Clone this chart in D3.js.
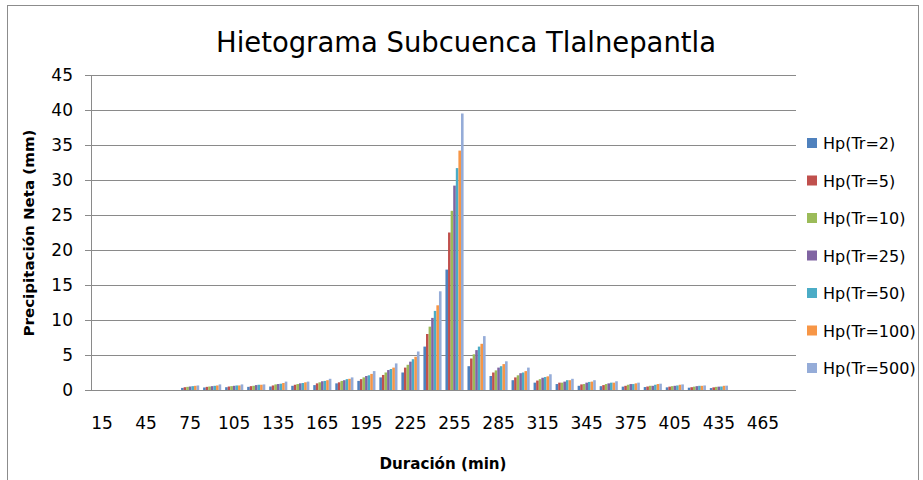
<!DOCTYPE html>
<html>
<head>
<meta charset="utf-8">
<script src="https://cdn.jsdelivr.net/npm/d3@7"></script>
<style>
  body { margin: 0; background: #fff; }
  text { font-family: "DejaVu Sans", "Liberation Sans", sans-serif; fill: #000; }
</style>
</head>
<body>
<div id="chart"></div>
<script>
// chart data
var durations = [15, 30, 45, 60, 75, 90, 105, 120, 135, 150, 165, 180, 195, 210, 225, 240,
    255, 270, 285, 300, 315, 330, 345, 360, 375, 390, 405, 420, 435, 450, 465, 480];

var seriesNames = ["Hp(Tr=2)", "Hp(Tr=5)", "Hp(Tr=10)", "Hp(Tr=25)", "Hp(Tr=50)", "Hp(Tr=100)", "Hp(Tr=500)"];

var hpTr2 = [0, 0, 0, 0, 0.30, 0.36, 0.40, 0.45, 0.50, 0.60, 0.70, 0.95, 1.30, 1.80, 2.50, 6.20,
    17.2, 3.40, 2.00, 1.40, 1.05, 0.85, 0.60, 0.55, 0.48, 0.42, 0.38, 0.33, 0.28, 0, 0, 0];
var hpTr5 = [0, 0, 0, 0, 0.40, 0.45, 0.50, 0.55, 0.65, 0.75, 0.95, 1.10, 1.55, 2.15, 3.20, 8.00,
    22.5, 4.50, 2.50, 1.80, 1.35, 1.05, 0.80, 0.70, 0.60, 0.50, 0.48, 0.40, 0.38, 0, 0, 0];
var hpTr10 = [0, 0, 0, 0, 0.45, 0.50, 0.55, 0.60, 0.80, 0.85, 1.10, 1.30, 1.80, 2.50, 3.60, 9.05,
    25.6, 5.10, 2.80, 2.10, 1.55, 1.05, 0.85, 0.85, 0.75, 0.60, 0.55, 0.48, 0.45, 0, 0, 0];
var hpTr25 = [0, 0, 0, 0, 0.50, 0.55, 0.60, 0.70, 0.85, 0.95, 1.25, 1.40, 2.00, 2.85, 4.05, 10.3,
    29.2, 5.70, 3.20, 2.40, 1.75, 1.20, 1.05, 0.95, 0.85, 0.60, 0.60, 0.55, 0.48, 0, 0, 0];
var hpTr50 = [0, 0, 0, 0, 0.55, 0.60, 0.65, 0.75, 0.90, 1.00, 1.30, 1.55, 2.10, 3.00, 4.40, 11.3,
    31.7, 6.20, 3.40, 2.50, 1.85, 1.40, 1.15, 1.05, 0.85, 0.75, 0.65, 0.60, 0.50, 0, 0, 0];
var hpTr100 = [0, 0, 0, 0, 0.60, 0.65, 0.65, 0.75, 1.00, 1.10, 1.40, 1.60, 2.30, 3.20, 4.75, 12.1,
    34.2, 6.60, 3.70, 2.70, 1.95, 1.40, 1.20, 1.05, 0.95, 0.85, 0.75, 0.60, 0.60, 0, 0, 0];
var hpTr500 = [0, 0, 0, 0, 0.65, 0.80, 0.80, 0.80, 1.20, 1.20, 1.60, 1.80, 2.70, 3.80, 5.50, 14.1,
    39.5, 7.70, 4.10, 3.20, 2.25, 1.60, 1.40, 1.25, 1.05, 0.90, 0.80, 0.65, 0.62, 0, 0, 0];

var yTicks = [0, 5, 10, 15, 20, 25, 30, 35, 40, 45];

var colors = ["#4f81bd", "#c0504d", "#9bbb59", "#8064a2", "#4bacc6", "#f79646", "#95acd8"];

var allSeries = [hpTr2, hpTr5, hpTr10, hpTr25, hpTr50, hpTr100, hpTr500];

// SVG parameters
var svgWidth = 923;
var svgHeight = 480;

var margin = {
    top: 75,
    right: 127,
    bottom: 90,
    left: 91
};

var width = svgWidth - margin.left - margin.right;
var height = svgHeight - margin.top - margin.bottom;

var svg = d3.select("#chart")
    .append("svg")
    .attr("width", svgWidth)
    .attr("height", svgHeight);

// chart frame
svg.append("rect")
    .attr("x", 7.5)
    .attr("y", 5.5)
    .attr("width", 911)
    .attr("height", 480)
    .attr("fill", "#fff")
    .attr("stroke", "#8c8c8c")
    .attr("stroke-width", 1);

var chartGroup = svg.append("g")
    .attr("transform", `translate(${margin.left}, ${margin.top})`);

// scales
var x0 = d3.scaleBand()
    .domain(durations)
    .range([0, width])
    .paddingInner(0.1765)
    .paddingOuter(0.0882);

var x1 = d3.scaleBand()
    .domain(seriesNames)
    .range([0, x0.bandwidth()]);

var yLinearScale = d3.scaleLinear()
    .domain([0, 45])
    .range([height, 0]);

// gridlines
chartGroup.append("g")
    .selectAll("line")
    .data(yTicks)
    .enter()
    .append("line")
    .attr("x1", 0)
    .attr("x2", width)
    .attr("y1", d => Math.round(yLinearScale(d)) + 0.5)
    .attr("y2", d => Math.round(yLinearScale(d)) + 0.5)
    .attr("stroke", "#8a8a8a")
    .attr("stroke-width", 1);

// bars
var seriesGroups = chartGroup.selectAll(".series")
    .data(allSeries)
    .enter()
    .append("g")
    .attr("class", "series")
    .attr("fill", (d, i) => colors[i]);

seriesGroups.each(function(values, si) {
    d3.select(this).selectAll("rect")
        .data(values)
        .enter()
        .append("rect")
        .attr("x", (d, i) => x0(durations[i]) + x1(seriesNames[si]))
        .attr("width", x1.bandwidth())
        .attr("y", d => yLinearScale(d))
        .attr("height", d => height - yLinearScale(d));
});

// axes
var leftAxis = d3.axisLeft(yLinearScale)
    .tickValues(yTicks)
    .tickSize(6)
    .tickPadding(12);

var yAxis = chartGroup.append("g")
    .call(leftAxis);

yAxis.select(".domain").attr("stroke", "#8a8a8a");
yAxis.selectAll(".tick line").attr("stroke", "#8a8a8a");
yAxis.selectAll("text")
    .style("font-size", "17px")
    .attr("font-family", null);

var bottomAxis = d3.axisBottom(x0)
    .tickValues(durations.filter((d, i) => i % 2 === 0))
    .tickSize(0)
    .tickPadding(27);

var xAxis = chartGroup.append("g")
    .attr("transform", `translate(0, ${height})`)
    .call(bottomAxis);

xAxis.select(".domain").remove();
xAxis.selectAll("text")
    .style("font-size", "17px")
    .attr("font-family", null);

// title and axis labels
svg.append("text")
    .attr("x", 466)
    .attr("y", 52)
    .attr("text-anchor", "middle")
    .attr("textLength", 500)
    .attr("lengthAdjust", "spacingAndGlyphs")
    .style("font-size", "28px")
    .text("Hietograma Subcuenca Tlalnepantla");

svg.append("text")
    .attr("transform", "translate(34, 233) rotate(-90)")
    .attr("text-anchor", "middle")
    .attr("textLength", 207)
    .attr("lengthAdjust", "spacingAndGlyphs")
    .style("font-size", "14px")
    .style("font-weight", "bold")
    .text("Precipitación Neta (mm)");

svg.append("text")
    .attr("x", 443)
    .attr("y", 469)
    .attr("text-anchor", "middle")
    .attr("textLength", 127)
    .attr("lengthAdjust", "spacingAndGlyphs")
    .style("font-size", "15px")
    .style("font-weight", "bold")
    .text("Duración (min)");

// legend
var legend = svg.append("g")
    .attr("transform", "translate(807, 143)");

var legendItems = legend.selectAll("g")
    .data(seriesNames)
    .enter()
    .append("g")
    .attr("transform", (d, i) => `translate(0, ${i * 37.5})`);

legendItems.append("rect")
    .attr("x", 0)
    .attr("y", -5)
    .attr("width", 10)
    .attr("height", 10)
    .attr("fill", (d, i) => colors[i]);

legendItems.append("text")
    .attr("x", 16)
    .attr("y", 6)
    .style("font-size", "16px")
    .text(d => d);
</script>
</body>
</html>
